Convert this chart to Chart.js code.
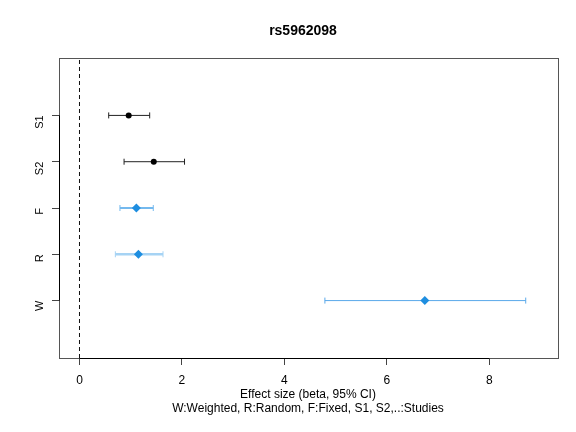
<!DOCTYPE html>
<html>
<head>
<meta charset="utf-8">
<script src="https://cdn.jsdelivr.net/npm/chart.js@4/dist/chart.umd.min.js"></script>
<style>
  html, body { margin: 0; padding: 0; background: #fff; }
  #wrap { width: 576px; height: 432px; }
</style>
</head>
<body>
<div id="wrap"><canvas id="c"></canvas></div>
<script>
// forest plot values (top to bottom)
const labels = ['S1', 'S2', 'F', 'R', 'W'];
const rows = [5, 4, 3, 2, 1];
const beta = [0.96, 1.45, 1.11, 1.15, 6.74];
const lower = [0.57, 0.87, 0.79, 0.70, 4.79];
const upper = [1.37, 2.05, 1.44, 1.63, 8.71];
const xTicks = [0, 2, 4, 6, 8];

const FONT = 'Liberation Sans, Arial, Helvetica, sans-serif';
const blue = '#1e8ee0';
const barColor = ['#222222', '#222222', '#74b9ee', '#a6d3f4', '#5aa9ea'];
const barWidth = [1, 1, 2, 2.5, 1];

// error bars, frame, axis lines and text drawn around the scales
const forestPlugin = {
  id: 'forest',
  beforeDatasetsDraw(chart) {
    const { ctx, chartArea: a, scales: { x, y } } = chart;
    ctx.save();
    labels.forEach((lab, i) => {
      const py = y.getPixelForValue(rows[i]);
      const x0 = x.getPixelForValue(lower[i]);
      const x1 = x.getPixelForValue(upper[i]);
      ctx.strokeStyle = barColor[i];
      ctx.lineWidth = barWidth[i];
      ctx.beginPath();
      ctx.moveTo(x0, py); ctx.lineTo(x1, py);
      ctx.stroke();
      ctx.lineWidth = 1;
      ctx.beginPath();
      ctx.moveTo(x0, py - 3); ctx.lineTo(x0, py + 3);
      ctx.moveTo(x1, py - 3); ctx.lineTo(x1, py + 3);
      ctx.stroke();
    });
    // frame
    const L = Math.round(a.left) + 0.5, T = Math.round(a.top) + 0.5;
    const R = Math.round(a.right) + 0.5, B = Math.round(a.bottom) + 0.5;
    ctx.strokeStyle = '#555';
    ctx.lineWidth = 1;
    ctx.strokeRect(L, T, R - L, B - T);
    // axis lines from first to last tick
    ctx.strokeStyle = '#000';
    ctx.beginPath();
    ctx.moveTo(L, y.getPixelForValue(rows[0]));
    ctx.lineTo(L, y.getPixelForValue(rows[rows.length - 1]));
    ctx.moveTo(x.getPixelForValue(xTicks[0]), B);
    ctx.lineTo(x.getPixelForValue(xTicks[xTicks.length - 1]), B);
    ctx.stroke();
    ctx.restore();
  },
  afterDraw(chart) {
    const { ctx } = chart;
    ctx.save();
    ctx.fillStyle = '#000';
    ctx.textAlign = 'center';
    ctx.textBaseline = 'middle';
    ctx.font = 'bold 14px ' + FONT;
    ctx.fillText('rs5962098', 303, 31);
    ctx.font = '12px ' + FONT;
    ctx.fillText('Effect size (beta, 95% CI)', 308, 395);
    ctx.fillText('W:Weighted, R:Random, F:Fixed, S1, S2,..:Studies', 308, 409);
    ctx.restore();
  }
};

new Chart(document.getElementById('c'), {
  type: 'scatter',
  data: {
    datasets: [
      {
        label: 'studies',
        data: [0, 1].map(i => ({ x: beta[i], y: rows[i] })),
        pointStyle: 'circle',
        pointRadius: 3,
        backgroundColor: '#000',
        borderColor: '#000',
        borderWidth: 0
      },
      {
        label: 'summary',
        data: [2, 3, 4].map(i => ({ x: beta[i], y: rows[i] })),
        pointStyle: 'rectRot',
        pointRadius: 4.5,
        backgroundColor: blue,
        borderColor: blue,
        borderWidth: 0
      },
      {
        label: 'zero',
        type: 'line',
        data: [{ x: 0, y: -0.24 }, { x: 0, y: 6.24 }],
        borderColor: '#111',
        borderWidth: 1,
        borderDash: [4, 3],
        pointRadius: 0
      }
    ]
  },
  options: {
    responsive: true,
    maintainAspectRatio: false,
    animation: false,
    layout: { padding: { left: 0, right: 18, top: 58, bottom: 0 } },
    plugins: {
      legend: { display: false },
      title: { display: false },
      tooltip: { enabled: false }
    },
    scales: {
      x: {
        type: 'linear',
        min: -0.40,
        max: 9.34,
        afterBuildTicks: s => { s.ticks = xTicks.map(v => ({ value: v })); },
        afterFit: s => { s.height = 74; },
        grid: { drawOnChartArea: false, tickLength: 7, color: '#444' },
        border: { display: false },
        ticks: {
          color: '#000',
          font: { family: FONT, size: 12 },
          padding: 8,
          maxRotation: 0
        }
      },
      y: {
        type: 'linear',
        min: -0.24,
        max: 6.24,
        afterBuildTicks: s => { s.ticks = rows.map(v => ({ value: v })); },
        afterFit: s => { s.width = 59; },
        grid: { drawOnChartArea: false, tickLength: 7, color: '#444' },
        border: { display: false },
        ticks: {
          color: '#000',
          font: { family: FONT, size: 11 },
          padding: 12,
          minRotation: 90,
          maxRotation: 90,
          callback: v => labels[rows.indexOf(v)]
        }
      }
    }
  },
  plugins: [forestPlugin]
});
</script>
</body>
</html>
